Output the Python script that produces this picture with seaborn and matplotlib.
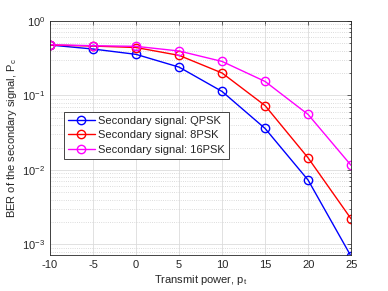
import matplotlib
matplotlib.use('Agg')
import matplotlib.pyplot as plt
import pandas as pd
import seaborn as sns
from matplotlib.ticker import LogLocator, NullFormatter

# Data
power = [-10, -5, 0, 5, 10, 15, 20, 25]
ber_qpsk = [0.475, 0.42, 0.356, 0.24, 0.113, 0.036, 0.0073, 0.00069]
ber_8psk = [0.475, 0.46, 0.44, 0.345, 0.2, 0.073, 0.0145, 0.0022]
ber_16psk = [0.48, 0.465, 0.456, 0.395, 0.286, 0.154, 0.0555, 0.0115]
labels = ['Secondary signal: QPSK', 'Secondary signal: 8PSK', 'Secondary signal: 16PSK']
colors = ['#0000ff', '#ff0000', '#ff00ff']


def build_frame():
    rows = []
    for label, vals in zip(labels, [ber_qpsk, ber_8psk, ber_16psk]):
        for p, v in zip(power, vals):
            rows.append({'power': p, 'ber': v, 'series': label})
    return pd.DataFrame(rows)


def main():
    sns.set_style('white')
    plt.rcParams['font.family'] = ['Liberation Sans', 'DejaVu Sans']
    plt.rcParams['mathtext.fontset'] = 'custom'
    plt.rcParams['mathtext.rm'] = 'Liberation Sans'
    plt.rcParams['mathtext.it'] = 'Liberation Sans'
    plt.rcParams['axes.unicode_minus'] = False

    df = build_frame()
    fig = plt.figure(figsize=(3.88, 2.91), dpi=100)
    ax = fig.add_axes([0.129, 0.122, 0.776, 0.806])

    sns.lineplot(data=df, x='power', y='ber', hue='series', hue_order=labels,
                 palette=colors, marker='o', markersize=6, markerfacecolor='none',
                 markeredgewidth=1.0, linewidth=1.0, ax=ax, legend=False)
    lines = ax.get_lines()[:3]
    for line, c in zip(lines, colors):
        line.set_markeredgecolor(c)

    ax.set_yscale('log')
    ax.set_xlim(-10, 25)
    ax.set_ylim(7.1e-4, 1)
    ax.set_xticks(power)
    ax.yaxis.set_major_locator(LogLocator(base=10, numticks=10))
    ax.yaxis.set_minor_locator(LogLocator(base=10, subs=range(2, 10), numticks=20))
    ax.yaxis.set_minor_formatter(NullFormatter())

    ax.grid(True, which='major', color='#dcdcdc', linewidth=0.6)
    ax.grid(True, which='minor', axis='y', color='#d0d0d0', linestyle=':', linewidth=0.6)
    ax.set_axisbelow(True)

    for s in ax.spines.values():
        s.set_color('#262626')
        s.set_linewidth(0.6)
    ax.tick_params(which='both', direction='in', top=True, right=True,
                   colors='#262626', labelsize=8, width=0.5)
    ax.tick_params(which='major', length=3)
    ax.tick_params(which='minor', length=1.8)

    ax.set_xlabel('Transmit power, p$_t$', fontsize=8, color='#262626', labelpad=2)
    ax.set_ylabel('BER of the secondary signal, P$_c$', fontsize=8, color='#262626', labelpad=2)

    leg = ax.legend(lines, labels, loc='upper left', bbox_to_anchor=(0.047, 0.612), fontsize=8,
                    frameon=True, fancybox=False, framealpha=1, edgecolor='#262626',
                    borderaxespad=0, borderpad=0.35, labelspacing=0.4, handlelength=2.4,
                    handletextpad=0.3)
    leg.get_frame().set_linewidth(0.6)

    fig.savefig('out.png', dpi=100)


if __name__ == '__main__':
    main()
